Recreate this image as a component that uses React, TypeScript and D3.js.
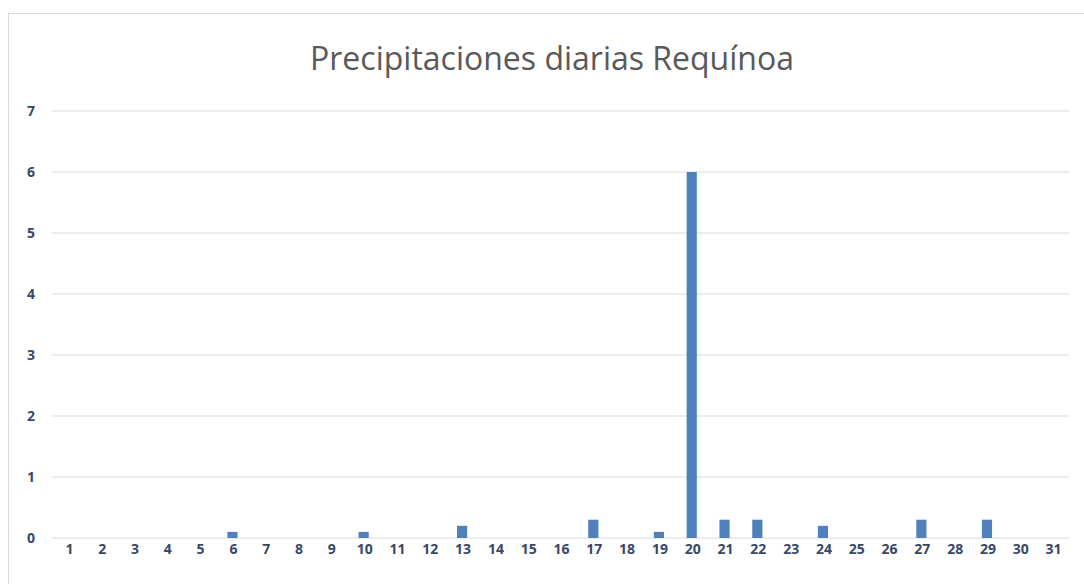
import React from "react";
import { scaleBand, scaleLinear } from "d3";

const days = Array.from({ length: 31 }, (_, i) => String(i + 1));
const rain = [0, 0, 0, 0, 0, 0.1, 0, 0, 0, 0.1, 0, 0, 0.2, 0, 0, 0, 0.3, 0, 0.1, 6, 0.3, 0.3, 0, 0.2, 0, 0, 0.3, 0, 0.3, 0, 0];
const yTicks = [0, 1, 2, 3, 4, 5, 6, 7];

export default function App() {
  const W = 1084;
  const H = 584;
  const left = 52;
  const right = 1069;
  const top = 111;
  const bottom = 538;

  const x = scaleBand().domain(days).range([left, right]).paddingInner(0.69).paddingOuter(0.345);
  const y = scaleLinear().domain([0, 7]).range([bottom, top]);

  const labelColor = "#3a4766";

  return (
    <svg
      width={W}
      height={H}
      style={{ position: "absolute", left: 0, top: 0, background: "#fff" }}
    >
      <rect x={8.5} y={13.5} width={1090} height={600} fill="#fff" stroke="#d9d9d9" />
      <text
        x={552}
        y={70}
        textAnchor="middle"
        fontFamily="Open Sans, sans-serif"
        fontSize={32}
        fill="#595959"
      >
        Precipitaciones diarias Requínoa
      </text>
      <g>
        {yTicks.map((t) => (
          <g key={t}>
            <line x1={left} x2={right} y1={y(t)} y2={y(t)} stroke="#d9d9d9" strokeWidth={1} />
            <text
              x={31}
              y={y(t)}
              dy="0.35em"
              textAnchor="middle"
              fontFamily="Open Sans, sans-serif"
              fontWeight="bold"
              fontSize={14}
              fill={labelColor}
            >
              {t}
            </text>
          </g>
        ))}
      </g>
      <g>
        {days.map((d, i) => (
          <rect
            key={d}
            x={x(d)}
            y={y(rain[i])}
            width={x.bandwidth()}
            height={y(0) - y(rain[i])}
            fill="#4f81bd"
          />
        ))}
      </g>
      <g>
        {days.map((d) => (
          <text
            key={d}
            x={(x(d) as number) + x.bandwidth() / 2 + 1}
            y={554}
            textAnchor="middle"
            fontFamily="Open Sans, sans-serif"
            fontWeight="bold"
            fontSize={14}
            fill={labelColor}
          >
            {d}
          </text>
        ))}
      </g>
    </svg>
  );
}
